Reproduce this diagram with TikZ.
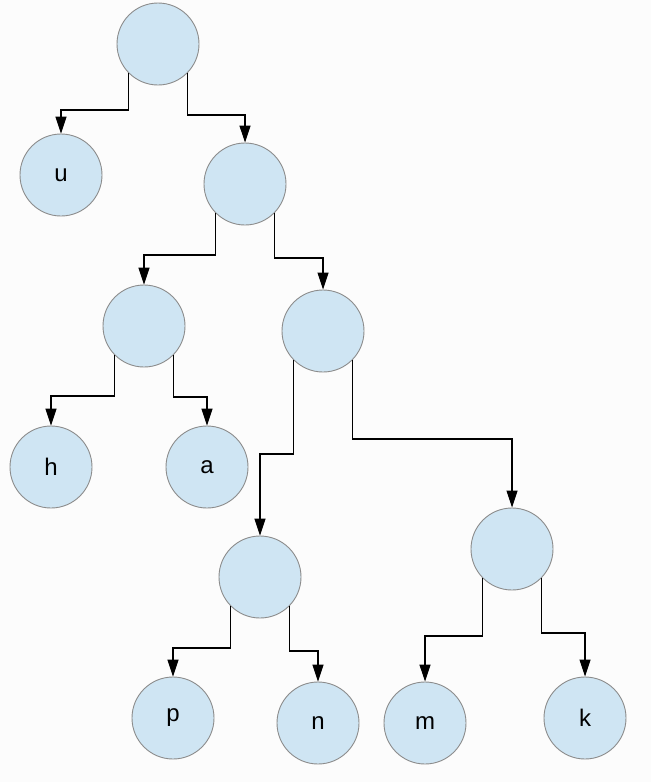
\documentclass[tikz,border=0pt]{standalone}
\usepackage{fontspec}
\setmainfont{Liberation Sans}
\usetikzlibrary{arrows.meta}
\definecolor{bg}{HTML}{FCFCFC}
\definecolor{nodefill}{HTML}{CFE5F3}
\definecolor{nodeline}{HTML}{8C8C8C}
\tikzset{
  tnode/.style={circle, draw=nodeline, line width=0.9pt, fill=nodefill, minimum size=82pt, inner sep=0pt, font=\fontsize{24}{24}\selectfont},
  conn/.style={draw=black, line width=1.1pt, -{Triangle[width=11pt,length=17pt]}}
}
\begin{document}
\begin{tikzpicture}[x=1pt,y=-1pt]
\fill[bg] (0,0) rectangle (651,782);
\useasboundingbox (0,0) rectangle (651,782);
\node[tnode] (root) at (158,44) {};
\node[tnode] (u) at (61,175) {u};
\node[tnode] (A) at (245,184) {};
\node[tnode] (B) at (144,326) {};
\node[tnode] (C) at (323,331) {};
\node[tnode] (h) at (51,467) {h};
\node[tnode] (a) at (207,467) {a};
\node[tnode] (D) at (260,577) {};
\node[tnode] (E) at (512,549) {};
\node[tnode] (p) at (173,718) {p};
\node[tnode] (n) at (318,723) {n};
\node[tnode] (m) at (425,723) {m};
\node[tnode] (k) at (585,718) {k};
\draw[conn] (root.-135) -- (root.-135 |- 0,110) -| (u.north);
\draw[conn] (root.-45) -- (root.-45 |- 0,115) -| (A.north);
\draw[conn] (A.-135) -- (A.-135 |- 0,255) -| (B.north);
\draw[conn] (A.-45) -- (A.-45 |- 0,258) -| (C.north);
\draw[conn] (B.-135) -- (B.-135 |- 0,396) -| (h.north);
\draw[conn] (B.-45) -- (B.-45 |- 0,397) -| (a.north);
\draw[conn] (C.-135) -- (C.-135 |- 0,454) -| (D.north);
\draw[conn] (C.-45) -- (C.-45 |- 0,439) -| (E.north);
\draw[conn] (D.-135) -- (D.-135 |- 0,648) -| (p.north);
\draw[conn] (D.-45) -- (D.-45 |- 0,651) -| (n.north);
\draw[conn] (E.-135) -- (E.-135 |- 0,636) -| (m.north);
\draw[conn] (E.-45) -- (E.-45 |- 0,633) -| (k.north);
\end{tikzpicture}
\end{document}
